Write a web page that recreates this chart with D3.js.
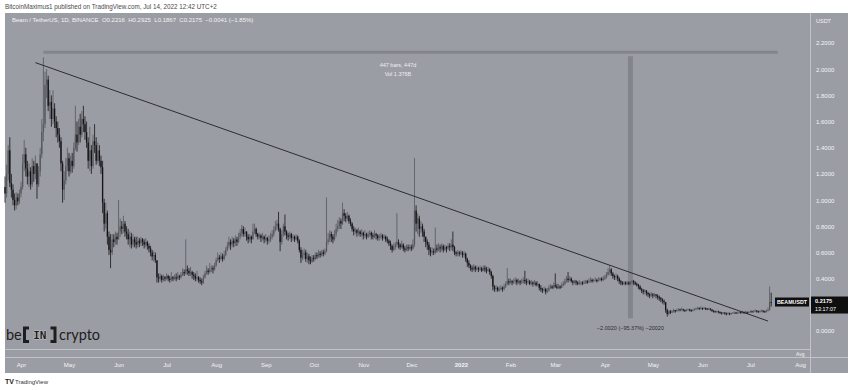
<!DOCTYPE html>
<html>
<head>
<meta charset="utf-8">
<script src="https://cdn.jsdelivr.net/npm/d3@7"></script>
<style>
  body { margin: 0; background: #fff; }
  svg { display: block; font-family: "Liberation Sans", Arial, sans-serif; }
</style>
</head>
<body>
<div id="app"></div>
<script>
// daily BEAM/USDT candles, first one on 2021-03-22, last on 2022-07-14
const startDay = "2021-03-22";
const firstOpen = 1.10;

const closes = [
  1.05,1.20,1.38,1.13,1.08,1.00,0.96,1.02,0.99,1.05,
  1.10,1.28,1.35,1.24,1.18,1.22,1.12,1.26,1.20,1.28,
  1.12,1.22,1.35,1.52,1.58,1.88,1.92,1.72,1.75,1.62,
  1.70,1.60,1.55,1.50,1.45,1.28,1.08,1.15,1.26,1.32,
  1.22,1.30,1.26,1.40,1.50,1.44,1.56,1.50,1.62,1.58,
  1.52,1.44,1.30,1.38,1.26,1.45,1.42,1.30,1.38,1.30,
  1.25,0.98,0.82,0.90,0.72,0.62,0.60,0.70,0.68,0.72,
  0.70,0.76,0.80,0.78,0.82,0.76,0.74,0.70,0.72,0.66,
  0.70,0.68,0.66,0.69,0.67,0.70,0.68,0.66,0.68,0.65,
  0.63,0.60,0.57,0.58,0.54,0.41,0.40,0.42,0.39,0.41,
  0.40,0.42,0.40,0.39,0.41,0.40,0.41,0.40,0.42,0.41,
  0.43,0.45,0.44,0.47,0.46,0.44,0.45,0.43,0.42,0.40,
  0.41,0.39,0.38,0.37,0.41,0.44,0.46,0.45,0.47,0.48,
  0.47,0.50,0.54,0.56,0.55,0.57,0.55,0.58,0.62,0.65,
  0.68,0.66,0.69,0.67,0.70,0.68,0.72,0.75,0.78,0.74,
  0.76,0.72,0.70,0.72,0.70,0.76,0.78,0.74,0.72,0.73,
  0.71,0.72,0.70,0.71,0.69,0.70,0.72,0.74,0.77,0.80,
  0.82,0.78,0.68,0.74,0.80,0.76,0.73,0.72,0.74,0.71,
  0.72,0.70,0.72,0.69,0.62,0.56,0.58,0.60,0.55,0.57,
  0.54,0.53,0.56,0.55,0.58,0.57,0.59,0.58,0.60,0.59,
  0.61,0.68,0.70,0.74,0.72,0.70,0.74,0.78,0.80,0.84,
  0.82,0.90,0.88,0.86,0.88,0.84,0.82,0.78,0.76,0.77,
  0.75,0.76,0.74,0.75,0.73,0.74,0.72,0.74,0.75,0.73,
  0.72,0.74,0.73,0.71,0.72,0.73,0.71,0.72,0.70,0.69,
  0.67,0.65,0.62,0.64,0.66,0.68,0.66,0.64,0.66,0.63,
  0.62,0.64,0.63,0.64,0.63,0.66,0.92,0.82,0.86,0.78,
  0.80,0.76,0.72,0.68,0.66,0.62,0.60,0.61,0.60,0.63,
  0.62,0.64,0.63,0.65,0.62,0.64,0.63,0.65,0.64,0.66,
  0.64,0.60,0.59,0.60,0.59,0.60,0.58,0.59,0.55,0.52,
  0.50,0.48,0.47,0.49,0.47,0.48,0.47,0.48,0.46,0.48,
  0.47,0.46,0.47,0.45,0.42,0.34,0.32,0.33,0.31,0.32,
  0.33,0.32,0.34,0.36,0.38,0.37,0.38,0.37,0.38,0.39,
  0.37,0.38,0.37,0.38,0.39,0.38,0.37,0.38,0.36,0.37,
  0.36,0.37,0.35,0.36,0.33,0.32,0.31,0.32,0.30,0.31,
  0.33,0.34,0.33,0.35,0.34,0.33,0.34,0.33,0.35,0.36,
  0.38,0.40,0.39,0.40,0.38,0.37,0.38,0.37,0.36,0.37,
  0.37,0.36,0.37,0.38,0.37,0.38,0.39,0.38,0.39,0.39,
  0.38,0.39,0.40,0.39,0.40,0.41,0.43,0.45,0.47,0.44,
  0.42,0.41,0.42,0.40,0.38,0.37,0.36,0.37,0.36,0.37,
  0.36,0.37,0.38,0.37,0.36,0.35,0.34,0.32,0.31,0.30,
  0.31,0.29,0.28,0.27,0.28,0.27,0.28,0.27,0.26,0.25,
  0.24,0.23,0.22,0.16,0.13,0.15,0.14,0.15,0.16,0.15,
  0.16,0.165,0.16,0.165,0.16,0.155,0.16,0.165,0.16,0.155,
  0.16,0.165,0.17,0.175,0.17,0.175,0.17,0.175,0.17,0.165,
  0.17,0.165,0.155,0.15,0.145,0.15,0.145,0.14,0.135,0.14,
  0.135,0.13,0.135,0.13,0.135,0.14,0.14,0.135,0.14,0.145,
  0.14,0.145,0.14,0.145,0.14,0.145,0.15,0.145,0.15,0.155,
  0.15,0.145,0.15,0.155,0.15,0.145,0.155,0.16,0.2216,0.2175
];

const highs = [
  1.18,1.27,1.42,1.48,1.20,1.12,1.05,1.06,1.05,1.08,
  1.14,1.35,1.46,1.40,1.30,1.28,1.25,1.32,1.30,1.34,
  1.24,1.26,1.40,1.62,2.09,1.98,2.00,1.95,1.84,1.80,
  1.84,1.74,1.64,1.60,1.55,1.48,1.30,1.22,1.32,1.40,
  1.36,1.34,1.36,1.44,1.72,1.60,1.62,1.66,1.68,1.72,
  1.64,1.60,1.48,1.56,1.42,1.50,1.58,1.48,1.44,1.42,
  1.34,1.30,1.01,0.98,0.92,0.76,0.74,0.74,0.74,0.76,
  0.75,1.00,0.86,0.84,0.88,0.84,0.80,0.78,0.76,0.75,
  0.74,0.72,0.72,0.72,0.71,0.72,0.71,0.70,0.71,0.69,
  0.67,0.65,0.62,0.61,0.60,0.54,0.44,0.44,0.43,0.43,
  0.42,0.44,0.43,0.42,0.45,0.42,0.43,0.44,0.45,0.43,
  0.45,0.48,0.47,0.70,0.50,0.48,0.49,0.46,0.45,0.44,
  0.46,0.42,0.41,0.40,0.43,0.46,0.50,0.48,0.52,0.50,
  0.50,0.52,0.56,0.60,0.58,0.60,0.59,0.61,0.64,0.68,
  0.72,0.70,0.72,0.71,0.73,0.72,0.75,0.78,0.81,0.80,
  0.79,0.76,0.74,0.74,0.73,0.82,0.82,0.79,0.75,0.75,
  0.74,0.75,0.73,0.74,0.72,0.73,0.75,0.77,0.80,0.84,
  0.85,0.91,0.79,0.77,0.82,0.89,0.77,0.75,0.76,0.75,
  0.74,0.73,0.74,0.73,0.70,0.64,0.62,0.63,0.62,0.60,
  0.59,0.57,0.58,0.58,0.60,0.60,0.62,0.61,0.62,0.62,
  0.63,1.02,0.75,0.77,0.76,0.74,0.77,0.82,0.85,0.87,
  0.86,0.98,0.93,0.90,0.91,0.89,0.86,0.83,0.80,0.79,
  0.78,0.79,0.77,0.78,0.76,0.77,0.75,0.76,0.77,0.76,
  0.75,0.77,0.75,0.74,0.74,0.75,0.74,0.74,0.73,0.72,
  0.70,0.69,0.66,0.67,0.68,0.90,0.70,0.67,0.69,0.67,
  0.65,0.66,0.66,0.66,0.66,0.70,1.32,0.96,0.90,0.88,
  0.84,0.82,0.78,0.72,0.70,0.68,0.64,0.64,0.63,0.79,
  0.66,0.67,0.66,0.67,0.66,0.66,0.65,0.67,0.67,0.70,
  0.76,0.65,0.61,0.62,0.61,0.62,0.61,0.61,0.60,0.56,
  0.54,0.51,0.50,0.51,0.50,0.50,0.49,0.50,0.49,0.50,
  0.50,0.49,0.49,0.48,0.46,0.43,0.35,0.35,0.34,0.34,
  0.35,0.34,0.36,0.38,0.48,0.40,0.40,0.39,0.40,0.41,
  0.40,0.40,0.39,0.40,0.41,0.46,0.40,0.40,0.39,0.39,
  0.38,0.39,0.38,0.38,0.36,0.35,0.33,0.34,0.33,0.33,
  0.35,0.36,0.35,0.37,0.44,0.36,0.36,0.35,0.37,0.38,
  0.40,0.42,0.45,0.42,0.41,0.39,0.39,0.39,0.38,0.39,
  0.38,0.38,0.39,0.39,0.39,0.40,0.41,0.40,0.40,0.41,
  0.40,0.41,0.41,0.41,0.42,0.43,0.45,0.48,0.50,0.48,
  0.45,0.43,0.44,0.43,0.41,0.39,0.38,0.38,0.38,0.38,
  0.38,0.38,0.39,0.39,0.38,0.37,0.36,0.35,0.33,0.32,
  0.32,0.31,0.30,0.29,0.30,0.29,0.29,0.28,0.28,0.27,
  0.26,0.25,0.24,0.22,0.17,0.16,0.16,0.16,0.17,0.16,
  0.17,0.175,0.17,0.18,0.17,0.165,0.17,0.17,0.17,0.165,
  0.17,0.175,0.18,0.185,0.18,0.19,0.18,0.185,0.18,0.175,
  0.18,0.175,0.165,0.16,0.155,0.155,0.155,0.15,0.145,0.145,
  0.145,0.14,0.145,0.14,0.14,0.145,0.15,0.145,0.15,0.15,
  0.15,0.155,0.15,0.155,0.15,0.15,0.16,0.155,0.16,0.165,
  0.16,0.155,0.16,0.165,0.16,0.155,0.165,0.18,0.34,0.2925
];

const lows = [
  0.98,1.02,1.15,1.10,1.02,0.96,0.92,0.93,0.96,0.97,
  1.02,1.08,1.22,1.18,1.12,1.10,1.08,1.10,1.14,1.16,
  1.01,1.10,1.18,1.32,1.45,1.55,1.78,1.68,1.62,1.56,
  1.58,1.55,1.48,1.44,1.40,1.22,0.98,1.00,1.12,1.22,
  1.18,1.20,1.21,1.24,1.38,1.37,1.42,1.44,1.48,1.52,
  1.46,1.40,1.24,1.22,1.20,1.24,1.36,1.27,1.28,1.26,
  1.20,0.90,0.76,0.78,0.66,0.58,0.48,0.58,0.64,0.66,
  0.66,0.70,0.72,0.74,0.75,0.72,0.70,0.66,0.64,0.63,
  0.64,0.64,0.63,0.64,0.64,0.65,0.65,0.63,0.64,0.62,
  0.60,0.57,0.54,0.53,0.52,0.37,0.37,0.38,0.37,0.38,
  0.38,0.39,0.38,0.37,0.38,0.38,0.39,0.38,0.39,0.39,
  0.40,0.42,0.42,0.43,0.43,0.42,0.42,0.40,0.39,0.38,
  0.38,0.37,0.36,0.35,0.36,0.40,0.43,0.43,0.44,0.45,
  0.44,0.46,0.49,0.53,0.52,0.54,0.53,0.54,0.57,0.61,
  0.63,0.62,0.64,0.64,0.65,0.65,0.67,0.70,0.72,0.72,
  0.72,0.69,0.67,0.68,0.67,0.70,0.74,0.72,0.70,0.70,
  0.68,0.69,0.67,0.68,0.66,0.67,0.68,0.70,0.72,0.76,
  0.77,0.76,0.61,0.66,0.72,0.73,0.70,0.69,0.70,0.68,
  0.69,0.68,0.69,0.67,0.60,0.52,0.54,0.55,0.53,0.52,
  0.51,0.51,0.52,0.53,0.54,0.55,0.56,0.56,0.57,0.57,
  0.58,0.60,0.66,0.68,0.68,0.67,0.69,0.72,0.76,0.78,
  0.78,0.81,0.84,0.83,0.84,0.82,0.80,0.76,0.73,0.74,
  0.72,0.73,0.72,0.72,0.70,0.71,0.70,0.71,0.72,0.70,
  0.70,0.71,0.70,0.69,0.69,0.70,0.69,0.70,0.68,0.67,
  0.65,0.62,0.60,0.61,0.62,0.64,0.63,0.62,0.63,0.61,
  0.60,0.61,0.61,0.62,0.61,0.62,0.64,0.76,0.74,0.72,
  0.75,0.72,0.68,0.64,0.62,0.58,0.57,0.58,0.58,0.59,
  0.60,0.61,0.60,0.61,0.60,0.61,0.60,0.62,0.61,0.62,
  0.61,0.58,0.57,0.57,0.57,0.58,0.56,0.56,0.53,0.49,
  0.48,0.46,0.45,0.46,0.45,0.46,0.45,0.46,0.45,0.46,
  0.45,0.44,0.45,0.43,0.40,0.31,0.30,0.30,0.30,0.30,
  0.31,0.30,0.31,0.33,0.35,0.35,0.36,0.35,0.36,0.36,
  0.35,0.36,0.35,0.36,0.36,0.36,0.35,0.36,0.35,0.35,
  0.34,0.35,0.34,0.34,0.31,0.30,0.29,0.30,0.28,0.29,
  0.30,0.32,0.32,0.32,0.33,0.32,0.32,0.32,0.33,0.34,
  0.35,0.37,0.37,0.38,0.37,0.35,0.36,0.35,0.35,0.35,
  0.35,0.35,0.36,0.36,0.36,0.37,0.37,0.37,0.37,0.38,
  0.37,0.38,0.38,0.38,0.38,0.39,0.40,0.42,0.43,0.42,
  0.40,0.39,0.39,0.38,0.36,0.35,0.35,0.35,0.35,0.35,
  0.35,0.35,0.36,0.35,0.35,0.34,0.32,0.31,0.29,0.28,
  0.28,0.27,0.26,0.25,0.26,0.25,0.26,0.25,0.24,0.23,
  0.22,0.21,0.20,0.14,0.11,0.12,0.13,0.14,0.14,0.14,
  0.15,0.15,0.15,0.155,0.15,0.145,0.15,0.155,0.15,0.145,
  0.15,0.155,0.16,0.165,0.16,0.165,0.16,0.165,0.16,0.16,
  0.16,0.155,0.145,0.14,0.14,0.14,0.135,0.13,0.125,0.13,
  0.125,0.12,0.125,0.12,0.125,0.13,0.13,0.13,0.13,0.135,
  0.13,0.135,0.13,0.135,0.13,0.135,0.14,0.14,0.14,0.145,
  0.14,0.14,0.14,0.145,0.14,0.14,0.14,0.15,0.155,0.1867
];

const priceTicks = [0, 0.2, 0.4, 0.6, 0.8, 1.0, 1.2, 1.4, 1.6, 1.8, 2.0, 2.2];
const monthTicks = ["2021-04-01","2021-05-01","2021-06-01","2021-07-01","2021-08-01","2021-09-01",
  "2021-10-01","2021-11-01","2021-12-01","2022-01-01","2022-02-01","2022-03-01",
  "2022-04-01","2022-05-01","2022-06-01","2022-07-01","2022-08-01"];
const monthLabels = ["Apr","May","Jun","Jul","Aug","Sep","Oct","Nov","Dec","2022",
  "Feb","Mar","Apr","May","Jun","Jul","Aug"];

// drawings on the chart
const trendLine = [["2021-04-10", 2.05], ["2022-07-12", 0.076]];
const dateRange = { from: "2021-04-15", to: "2022-07-18", price: 2.13 };
const priceRange = { date: "2022-04-17", from: 2.099, to: 0.097 };
const dateRangeLabels = ["447 bars, 447d", "Vol 1.376B"];
const priceRangeLabel = "\u22122.0020 (\u221295.37%) \u221220020";
const lastPrice = 0.2175;

const headerText = "BitcoinMaximus1 published on TradingView.com, Jul 14, 2022 12:42 UTC+2";
const legendText = "Beam / TetherUS, 1D, BINANCE  O0.2216  H0.2925  L0.1867  C0.2175  \u22120.0041 (\u22121.85%)";

const config = {
  width: 850,
  height: 390,
  color: {
    bg: "#9b9da5",
    sep: "#c1c3c8",
    text: "#f3f3f3",
    up: "#56585e",
    down: "#141416",
    tool: "#83858c"
  }
};

const parse = d3.utcParse("%Y-%m-%d");
const start = parse(startDay);

const candles = closes.map((c, i) => {
  const o = i === 0 ? firstOpen : closes[i - 1];
  return {
    date: d3.utcDay.offset(start, i),
    o: o,
    c: c,
    h: Math.max(highs[i], o, c),
    l: Math.min(lows[i], o, c)
  };
});

const x = d3.scaleUtc()
  .domain([parse("2021-04-01"), parse("2022-08-01")])
  .range([21, 800]);

const y = d3.scaleLinear()
  .domain([0, 2.2])
  .range([331, 43]);

const ly = y(lastPrice);

const svg = d3.select("#app").append("svg")
  .attr("width", config.width)
  .attr("height", config.height);

svg.append("rect")
  .attr("width", config.width)
  .attr("height", config.height)
  .attr("fill", "#fff");

svg.append("text")
  .attr("x", 5).attr("y", 9)
  .attr("font-size", 6.3)
  .attr("fill", "#4a4a4a")
  .text(headerText);

// chart panel
svg.append("rect")
  .attr("x", 5).attr("y", 13)
  .attr("width", 843).attr("height", 360)
  .attr("fill", config.color.bg);

svg.append("line")
  .attr("x1", 810.5).attr("x2", 810.5)
  .attr("y1", 13).attr("y2", 373)
  .attr("stroke", config.color.sep);

svg.append("line")
  .attr("x1", 5).attr("x2", 810)
  .attr("y1", 349.5).attr("y2", 349.5)
  .attr("stroke", config.color.sep);

svg.append("line")
  .attr("x1", 5).attr("x2", 848)
  .attr("y1", 357.5).attr("y2", 357.5)
  .attr("stroke", config.color.sep);

svg.append("text")
  .attr("x", 12).attr("y", 22)
  .attr("font-size", 6)
  .attr("fill", config.color.text)
  .attr("xml:space", "preserve")
  .style("white-space", "pre")
  .text(legendText);

// price axis (the tick hidden under the last price tag is skipped, as TradingView does)
const shownTicks = priceTicks.filter(v => Math.abs(y(v) - ly) > 10);
const yAxis = svg.append("g")
  .attr("transform", "translate(810,0)")
  .call(d3.axisRight(y).tickValues(shownTicks).tickFormat(d3.format(".4f")).tickSize(0).tickPadding(6));
yAxis.select(".domain").remove();
yAxis.selectAll("text")
  .attr("font-size", 6)
  .attr("font-family", "Liberation Sans, Arial, sans-serif")
  .attr("fill", config.color.text);

svg.append("text")
  .attr("x", 816).attr("y", 23)
  .attr("font-size", 5.5)
  .attr("fill", config.color.text)
  .text("USDT");

// time axis
const monthDates = monthTicks.map(parse);
const xAxis = svg.append("g")
  .attr("transform", "translate(0,358)")
  .call(d3.axisBottom(x).tickValues(monthDates)
    .tickFormat((d, i) => monthLabels[i]).tickSize(0).tickPadding(5));
xAxis.select(".domain").remove();
xAxis.selectAll("text")
  .attr("font-size", 6)
  .attr("font-family", "Liberation Sans, Arial, sans-serif")
  .attr("fill", config.color.text)
  .attr("font-weight", (d, i) => monthLabels[i] === "2022" ? "bold" : null);

svg.append("text")
  .attr("x", 796).attr("y", 355.5)
  .attr("font-size", 5)
  .attr("fill", config.color.text)
  .text("Avg");

// measuring tools
svg.append("line")
  .attr("x1", x(parse(dateRange.from))).attr("x2", x(parse(dateRange.to)))
  .attr("y1", y(dateRange.price)).attr("y2", y(dateRange.price))
  .attr("stroke", config.color.tool)
  .attr("stroke-width", 3);

svg.append("g")
  .selectAll("text")
  .data(dateRangeLabels)
  .enter()
  .append("text")
  .attr("x", 398)
  .attr("y", (d, i) => 67 + i * 9)
  .attr("text-anchor", "middle")
  .attr("font-size", 5.5)
  .attr("fill", "#eeeeee")
  .text(d => d);

const prX = x(parse(priceRange.date));
svg.append("rect")
  .attr("x", prX - 2.5).attr("width", 5)
  .attr("y", y(priceRange.from))
  .attr("height", y(priceRange.to) - y(priceRange.from))
  .attr("fill", config.color.tool);

svg.append("text")
  .attr("x", prX).attr("y", 330)
  .attr("text-anchor", "middle")
  .attr("font-size", 5.5)
  .attr("fill", "#2b2b2e")
  .text(priceRangeLabel);

// candles
const g = svg.append("g");

g.selectAll("line")
  .data(candles)
  .enter()
  .append("line")
  .attr("x1", d => x(d.date)).attr("x2", d => x(d.date))
  .attr("y1", d => y(d.h)).attr("y2", d => y(d.l))
  .attr("stroke", d => d.c >= d.o ? config.color.up : config.color.down)
  .attr("stroke-width", 0.8);

g.selectAll("rect")
  .data(candles)
  .enter()
  .append("rect")
  .attr("x", d => x(d.date) - 0.65)
  .attr("width", 1.3)
  .attr("y", d => y(Math.max(d.o, d.c)))
  .attr("height", d => Math.max(0.8, Math.abs(y(d.o) - y(d.c))))
  .attr("fill", d => d.c >= d.o ? config.color.up : config.color.down);

// trend line
svg.append("line")
  .attr("x1", x(parse(trendLine[0][0]))).attr("y1", y(trendLine[0][1]))
  .attr("x2", x(parse(trendLine[1][0]))).attr("y2", y(trendLine[1][1]))
  .attr("stroke", "#202024")
  .attr("stroke-width", 0.9);

// last price tags
svg.append("rect")
  .attr("x", 775).attr("y", ly - 5)
  .attr("width", 34).attr("height", 9)
  .attr("fill", "#0f0f10");
svg.append("text")
  .attr("x", 792).attr("y", ly + 1.8)
  .attr("text-anchor", "middle")
  .attr("font-size", 5.3)
  .attr("font-weight", "bold")
  .attr("fill", "#fff")
  .text("BEAMUSDT");

svg.append("rect")
  .attr("x", 811).attr("y", ly - 6)
  .attr("width", 37).attr("height", 17)
  .attr("fill", "#0f0f10");
svg.append("text")
  .attr("x", 815).attr("y", ly + 0.8)
  .attr("font-size", 5.6)
  .attr("font-weight", "bold")
  .attr("fill", "#fff")
  .text(d3.format(".4f")(lastPrice));
svg.append("text")
  .attr("x", 815).attr("y", ly + 8.6)
  .attr("font-size", 5.4)
  .attr("fill", "#fff")
  .text("13:17:07");

// beincrypto watermark
const logo = svg.append("g").attr("fill", "#1e1e20");
logo.append("text")
  .attr("x", 6).attr("y", 339.5)
  .attr("font-family", "Lato, sans-serif")
  .attr("font-size", 14.5)
  .text("be");
logo.append("path")
  .attr("d", "M29,328 L24.5,328 L24.5,341.5 L29,341.5 M50.5,328 L55,328 L55,341.5 L50.5,341.5")
  .attr("fill", "none")
  .attr("stroke", "#1e1e20")
  .attr("stroke-width", 3);
logo.append("text")
  .attr("x", 39.8).attr("y", 339)
  .attr("text-anchor", "middle")
  .attr("font-family", "DejaVu Sans Mono, monospace")
  .attr("font-weight", "bold")
  .attr("font-size", 11)
  .attr("stroke", "#e6e6e6")
  .attr("stroke-width", 0.6)
  .attr("paint-order", "stroke")
  .text("IN");
logo.append("text")
  .attr("x", 59).attr("y", 339.5)
  .attr("font-family", "Lato, sans-serif")
  .attr("font-size", 14.5)
  .text("crypto");

// footer
svg.append("text")
  .attr("x", 5).attr("y", 384)
  .attr("font-size", 7)
  .attr("font-weight", "bold")
  .attr("fill", "#222")
  .text("TV");
svg.append("text")
  .attr("x", 15).attr("y", 384)
  .attr("font-size", 6)
  .attr("fill", "#333")
  .text("TradingView");
</script>
</body>
</html>
